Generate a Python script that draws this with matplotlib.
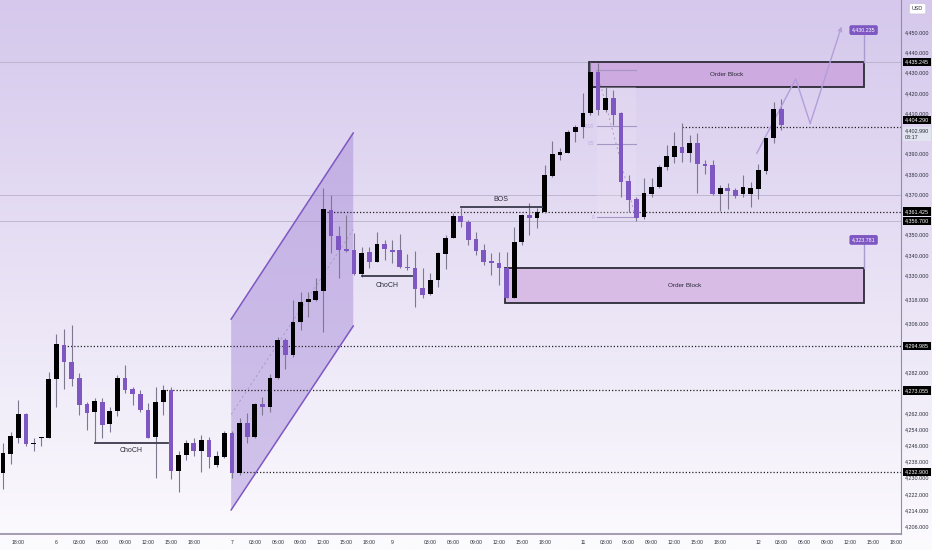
import numpy as np
import matplotlib.pyplot as plt
from matplotlib.patches import Rectangle, Polygon

plt.rcParams['font.family'] = ['Liberation Sans', 'DejaVu Sans']

# hourly candles, first one is bar -2 (two bars before the 18:00 label)
first_bar = -2
opens = [4232.3, 4241.7, 4249.6, 4261.5, 4246.5, 4249.5, 4249.6, 4278.7, 4295.5, 4287.1,
         4279.2, 4266.4, 4262.4, 4267.4, 4256.5, 4262.9, 4279.2, 4273.8, 4271.3, 4263.4,
         4250.1, 4267.4, 4273.3, 4233.3, 4241.2, 4247.0, 4243.3, 4248.6, 4236.3, 4240.1,
         4252.2, 4232.2, 4256.9, 4250.2, 4266.4, 4265.1, 4279.1, 4298.0, 4290.6, 4307.0,
         4316.9, 4317.8, 4322.2, 4362.2, 4349.4, 4342.8, 4342.4, 4330.4, 4341.3, 4336.7,
         4345.3, 4342.4, 4342.4, 4334.2, 4333.4, 4323.5, 4320.6, 4327.6, 4340.3, 4348.5,
         4359.4, 4356.4, 4347.9, 4342.4, 4337.0, 4335.9, 4333.4, 4318.9, 4346.5, 4359.7,
         4358.1, 4361.4, 4379.1, 4389.4, 4390.5, 4400.6, 4403.0, 4409.9, 4430.2, 4411.6,
         4417.4, 4409.9, 4376.5, 4367.6, 4358.6, 4369.9, 4373.4, 4383.3, 4388.5, 4393.5,
         4390.2, 4395.1, 4384.9, 4384.4, 4370.1, 4372.9, 4372.1, 4370.1, 4370.1, 4372.6,
         4381.5, 4397.6, 4411.9]
highs = [4247.1, 4252.6, 4268.4, 4262.0, 4249.6, 4250.1, 4282.2, 4301.0, 4303.4, 4305.4,
         4281.7, 4267.4, 4269.4, 4269.4, 4264.9, 4280.7, 4285.7, 4274.8, 4273.3, 4266.9,
         4274.8, 4275.8, 4274.8, 4243.2, 4248.6, 4249.5, 4251.1, 4250.2, 4243.3, 4253.2,
         4253.2, 4259.6, 4261.8, 4267.0, 4269.7, 4281.1, 4299.6, 4298.8, 4317.8, 4321.9,
         4321.9, 4328.5, 4372.9, 4369.6, 4354.3, 4359.7, 4350.7, 4344.1, 4344.1, 4351.5,
         4347.4, 4347.4, 4350.2, 4340.3, 4341.9, 4333.4, 4330.9, 4341.6, 4349.9, 4360.6,
         4363.0, 4357.3, 4351.5, 4345.3, 4340.8, 4341.6, 4341.6, 4353.9, 4360.1, 4365.5,
         4363.0, 4384.4, 4396.3, 4392.7, 4401.7, 4404.2, 4419.8, 4435.2, 4434.6, 4423.1,
         4421.4, 4410.7, 4379.5, 4368.8, 4377.9, 4377.9, 4384.4, 4394.3, 4400.9, 4405.0,
         4399.2, 4400.1, 4386.9, 4386.9, 4374.5, 4375.4, 4372.9, 4379.5, 4376.2, 4384.8,
         4397.9, 4415.4, 4417.0]
lows = [4224.4, 4236.8, 4247.1, 4245.6, 4243.2, 4245.6, 4249.6, 4264.9, 4273.8, 4275.3,
        4261.0, 4253.6, 4247.1, 4249.6, 4252.6, 4260.5, 4271.8, 4265.9, 4262.4, 4249.4,
        4229.9, 4261.0, 4229.4, 4222.9, 4238.7, 4240.7, 4233.0, 4234.6, 4235.4, 4239.6,
        4229.7, 4231.4, 4247.3, 4249.5, 4261.0, 4262.6, 4278.6, 4283.5, 4289.8, 4302.9,
        4309.2, 4317.4, 4302.1, 4340.8, 4328.8, 4341.6, 4330.1, 4329.3, 4333.4, 4336.4,
        4337.5, 4335.9, 4333.7, 4332.6, 4314.4, 4318.6, 4320.2, 4324.3, 4333.1, 4348.2,
        4353.9, 4344.9, 4340.0, 4335.0, 4330.1, 4325.2, 4318.6, 4318.6, 4344.9, 4349.9,
        4353.5, 4360.6, 4378.6, 4386.9, 4390.2, 4395.6, 4397.6, 4409.1, 4409.1, 4410.7,
        4404.2, 4368.8, 4361.4, 4356.7, 4357.8, 4368.8, 4372.9, 4382.0, 4385.3, 4386.1,
        4386.1, 4370.4, 4379.8, 4369.6, 4361.7, 4362.7, 4368.3, 4368.8, 4363.8, 4367.6,
        4379.8, 4395.4, 4401.7]
closes = [4242.2, 4250.6, 4261.5, 4246.6, 4247.0, 4250.0, 4278.7, 4296.0, 4287.1, 4278.7,
          4265.9, 4261.9, 4267.9, 4256.0, 4262.9, 4279.2, 4273.3, 4271.3, 4263.4, 4249.6,
          4267.4, 4273.3, 4233.3, 4241.2, 4247.0, 4243.3, 4248.6, 4240.4, 4240.7, 4252.2,
          4232.2, 4256.9, 4250.2, 4266.4, 4265.1, 4279.4, 4298.0, 4290.6, 4307.0, 4316.9,
          4318.1, 4322.2, 4362.7, 4349.4, 4342.4, 4341.9, 4330.4, 4341.1, 4336.7, 4345.3,
          4342.9, 4341.3, 4334.2, 4333.4, 4323.2, 4320.2, 4327.6, 4340.8, 4348.5, 4359.4,
          4356.4, 4347.4, 4342.1, 4336.7, 4335.9, 4333.4, 4318.9, 4346.5, 4359.7, 4358.1,
          4361.4, 4379.5, 4389.7, 4391.0, 4400.6, 4403.0, 4409.9, 4430.2, 4411.6, 4417.4,
          4409.1, 4376.2, 4367.1, 4358.1, 4370.4, 4373.7, 4383.6, 4388.9, 4393.8, 4390.2,
          4395.1, 4384.8, 4383.9, 4370.1, 4372.9, 4371.7, 4369.3, 4373.4, 4372.9, 4382.0,
          4397.6, 4411.9, 4404.3]

xtick_pos = [0, 5, 8, 11, 14, 17, 20, 23, 28, 31, 34, 37, 40, 43, 46, 49, 54, 57, 60, 63,
             66, 69, 74, 77, 80, 83, 86, 89, 92, 97, 100, 103, 106, 109, 112, 115]
xtick_lab = ['18:00', '6', '03:00', '06:00', '09:00', '12:00', '15:00', '18:00',
             '7', '03:00', '06:00', '09:00', '12:00', '15:00', '18:00',
             '9', '03:00', '06:00', '09:00', '12:00', '15:00', '18:00',
             '11', '03:00', '06:00', '09:00', '12:00', '15:00', '18:00',
             '12', '03:00', '06:00', '09:00', '12:00', '15:00', '18:00']
ytick_val = [4450, 4440, 4430, 4420, 4410, 4390, 4380, 4370, 4350, 4340, 4330, 4318,
             4306, 4282, 4262, 4254, 4246, 4238, 4230, 4222, 4214, 4206]

# dotted key levels and the bar where each one starts
dot_levels = [4402.99, 4361.425, 4294.985, 4273.055, 4232.9]
dot_start = [87, 40.5, 6, 19, 29]
faint_levels = [4435.245, 4369.6, 4356.7]

# right axis tags: price where the tag sits, text
tag_pos = [4435.245, 4406.6, 4361.425, 4356.7, 4294.985, 4273.055, 4232.9]
tag_txt = ['4,435.245', '4,404.290', '4,361.425', '4,356.700', '4,294.985', '4,273.055', '4,232.900']

# drawings
chan_x = [27.9, 43.9]
chan_top = [4308.3, 4400.2]
chan_bot = [4214.1, 4304.9]
ob_x = [[74.8, 110.8], [63.8, 110.8]]
ob_y = [[4423.1, 4435.245], [4316.4, 4333.4]]
ob_fc = ['#cdaadf', '#d8bce6']
fib_x = [75.8, 80.9]
fib_lo, fib_hi = 4358.6, 4431.3
fib_lvls = [0, 0.5, 0.618, 1]
path_x = [96.8, 101.9, 103.8, 107.9]
path_y = [4390.2, 4426.9, 4404.9, 4452.7]
structure = [('ChoCH', 10, 19.6, 4247.3, 4243.2), ('ChoCH', 45, 51.6, 4329.7, 4325.1),
             ('BOS', 58, 68.6, 4363.5, 4367.4)]
notes_x = 110.8
notes = [(4451.0, 4435.245, '4,430.235'), (4347.4, 4333.4, '4,323.781')]

fig = plt.figure(figsize=(9.32, 5.5), dpi=100)
bg = fig.add_axes([0, 0, 1, 1], zorder=-1)
top_c = np.array([213, 200, 236]) / 255
bot_c = np.array([252, 251, 254]) / 255
g = np.linspace(0, 1, 300)[:, None, None]
bg.imshow(top_c + (bot_c - top_c) * g, aspect='auto', extent=[0, 1, 0, 1])
bg.axis('off')

ax = fig.add_axes([0, 16 / 550, 901 / 932, 534 / 550])
ax.set_facecolor('none')
ax.set_xlim(-2.4, 115.7)
ax.set_ylim(4202.2, 4465.86)

for lv in faint_levels:
    ax.axhline(lv, color='#b9b1c9', lw=0.6, zorder=1)
for lv, st in zip(dot_levels, dot_start):
    ax.plot([st, 115.7], [lv, lv], color='#222', lw=0.9, ls=(0, (1, 1.6)), zorder=2)

# channel
poly = Polygon([(chan_x[0], chan_top[0]), (chan_x[1], chan_top[1]),
                (chan_x[1], chan_bot[1]), (chan_x[0], chan_bot[0])],
               fc='#a285d6', alpha=0.45, ec='none', zorder=1)
ax.add_patch(poly)
ax.plot(chan_x, chan_top, color='#7e57c2', lw=1.1, zorder=2)
ax.plot(chan_x, chan_bot, color='#7e57c2', lw=1.1, zorder=2)
ax.plot(chan_x, [(chan_top[0] + chan_bot[0]) / 2, (chan_top[1] + chan_bot[1]) / 2],
        color='#a898c8', lw=0.6, ls=(0, (3, 3)), zorder=2)

# order blocks
for (x0, x1), (y0, y1), fc in zip(ob_x, ob_y, ob_fc):
    ax.add_patch(Rectangle((x0, y0), x1 - x0, y1 - y0, fc=fc, ec='#2b2a36', lw=1.3, zorder=2))
    ax.text((x0 + x1) / 2, (y0 + y1) / 2, 'Order Block', ha='center', va='center',
            fontsize=4.6, color='#2b2a36', zorder=5)

# fib retracement
ax.add_patch(Rectangle((fib_x[0], fib_lo), fib_x[1] - fib_x[0], ob_y[0][0] - fib_lo,
                       fc='#eee2f5', alpha=0.3, ec='none', zorder=2))
for lv in fib_lvls:
    p = fib_lo + (fib_hi - fib_lo) * lv
    ax.plot(fib_x, [p, p], color='#a596c4', lw=0.8, zorder=2)
    if lv < 1:
        ax.text(fib_x[0] - 0.3, p, str(lv), ha='right', va='center', fontsize=3.4,
                color='#b9a7dc', zorder=2)
ax.plot(fib_x, [fib_hi, fib_lo], color='#9c8cc0', lw=0.6, ls=(0, (2, 4)), zorder=2)

# candles
o = np.array(opens)
c = np.array(closes)
x = np.arange(first_bar, first_bar + len(o))
col = np.where(c >= o, '#000000', '#7e57c2')
ax.vlines(x, lows, highs, color='#7d7890', lw=0.8, zorder=3)
ax.bar(x, np.maximum(np.abs(c - o), 0.8), bottom=np.minimum(o, c), width=0.62,
       color=col, zorder=4)

# structure marks
for name, xa, xb, lv, ty in structure:
    ax.plot([xa, xb], [lv, lv], color='#3a3a4c', lw=1.3, zorder=5)
    ax.text((xa + xb) / 2, ty, name, ha='center', va='center', fontsize=5,
            color='#2b2a36', zorder=5)

# projected path
ax.plot(path_x[:-1], path_y[:-1], color='#b39ddb', lw=1.0, zorder=3)
ax.annotate('', xy=(path_x[-1], path_y[-1]), xytext=(path_x[-2], path_y[-2]),
            arrowprops=dict(arrowstyle='->', color='#b39ddb', lw=1.0,
                            shrinkA=0, shrinkB=0, mutation_scale=6), zorder=3)

# price notes
for ty, ly, txt in notes:
    ax.plot([notes_x, notes_x], [ly, ty], color='#a99bd0', lw=1.0, zorder=5)
    ax.text(notes_x, ty, txt, ha='center', va='center', fontsize=3.8, color='white',
            bbox=dict(boxstyle='round,pad=0.45,rounding_size=0.35', fc='#7e57c2', ec='none'),
            zorder=6)

# axes decoration
for s in ['top', 'left']:
    ax.spines[s].set_visible(False)
ax.spines['right'].set_color('#928ca4')
ax.spines['bottom'].set_color('#928ca4')
ax.spines['right'].set_linewidth(0.8)
ax.spines['bottom'].set_linewidth(1.2)
ax.yaxis.tick_right()
ax.set_yticks(ytick_val)
ax.set_yticklabels([f'{v:,.3f}' for v in ytick_val])
ax.tick_params(axis='y', length=0, pad=3, labelsize=3.9, labelcolor='#2a2e39')
ax.set_xticks(xtick_pos)
ax.set_xticklabels(xtick_lab)
ax.tick_params(axis='x', length=0, pad=4, labelsize=3.7, labelcolor='#2a2e39')

tr = ax.get_yaxis_transform()
for p, t in zip(tag_pos, tag_txt):
    ax.text(1.0045, p, t, transform=tr, ha='left', va='center', fontsize=3.9,
            color='white', clip_on=False, zorder=10,
            bbox=dict(boxstyle='square,pad=0.3', fc='black', ec='none'))
ax.text(1.0045, 4402.4, '4,402.990\n08:17', transform=tr, ha='left', va='top',
        fontsize=3.9, color='#2a2e39', clip_on=False, zorder=10, linespacing=1.3,
        bbox=dict(boxstyle='square,pad=0.3', fc='#dfe4ee', ec='none'))

fig.text(0.9845, 0.984, 'USD', ha='center', va='center', fontsize=3.9, color='#2a2e39',
         bbox=dict(boxstyle='round,pad=0.5,rounding_size=0.3', fc='white', ec='#cfc8dc', lw=0.6))

fig.savefig('out.png', dpi=100)
